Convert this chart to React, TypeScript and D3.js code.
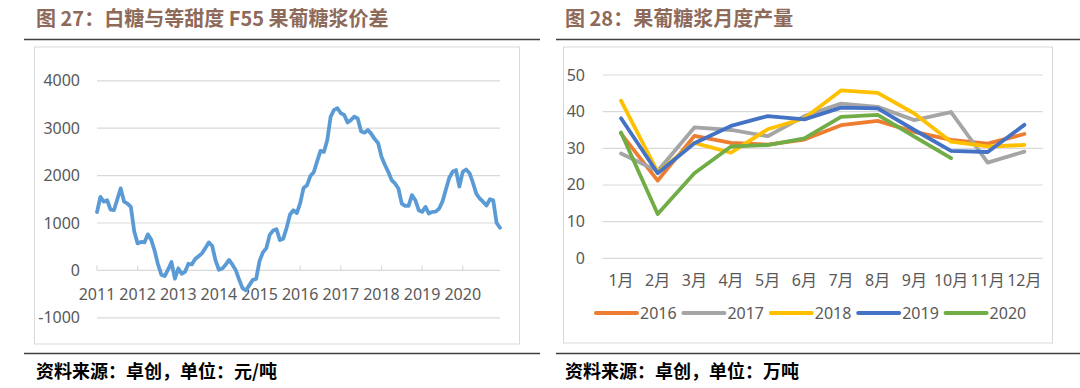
import React from 'react';
import * as d3 from 'd3';

// left chart: white sugar vs F55 HFCS spread, monthly, 2011-2020
const spreadYears = ['2011', '2012', '2013', '2014', '2015', '2016', '2017', '2018', '2019', '2020'];
const spread2011 = [1230, 1550, 1450, 1480, 1280, 1270, 1500, 1730, 1450, 1410, 1340, 820];
const spread2012 = [570, 600, 590, 760, 650, 420, 130, -90, -120, 20, 176, -176];
const spread2013 = [40, -70, -30, 140, 127, 240, 300, 360, 470, 590, 520, 212];
const spread2014 = [14, 40, 120, 220, 120, 0, -200, -380, -420, -310, -200, -180];
const spread2015 = [200, 380, 470, 750, 840, 870, 640, 670, 900, 1180, 1270, 1210];
const spread2016 = [1420, 1740, 1795, 1990, 2070, 2300, 2520, 2500, 2750, 3245, 3386, 3421];
const spread2017 = [3316, 3280, 3120, 3175, 3245, 3200, 2930, 2906, 2960, 2880, 2770, 2690];
const spread2018 = [2400, 2230, 2080, 1905, 1834, 1728, 1410, 1361, 1361, 1587, 1481, 1270];
const spread2019 = [1234, 1340, 1199, 1234, 1240, 1300, 1450, 1700, 1950, 2080, 2116, 1770];
const spread2020 = [2080, 2130, 2050, 1850, 1620, 1517, 1450, 1370, 1500, 1480, 1000, 900];
const spreadTicks = [-1000, 0, 1000, 2000, 3000, 4000];

// right chart: HFCS monthly output (10k t)
const months = ['1月', '2月', '3月', '4月', '5月', '6月', '7月', '8月', '9月', '10月', '11月', '12月'];
const prod2016 = [34, 21.2, 33.4, 31.5, 31, 32.4, 36.3, 37.5, 34.5, 32.3, 31.3, 33.9];
const prod2017 = [28.6, 23.8, 35.7, 35, 33.3, 38.8, 42.2, 41.3, 37.7, 39.9, 26.1, 29.1];
const prod2018 = [43, 23.5, 31.5, 28.8, 35.2, 38.2, 45.8, 45.1, 39.5, 31.8, 30.5, 30.9];
const prod2019 = [38.2, 23.2, 31.4, 36.1, 38.8, 37.9, 41.1, 40.9, 35, 29.3, 29, 36.4];
const prod2020 = [34.3, 12.1, 23.2, 30.5, 30.9, 32.7, 38.6, 39.1, 33.2, 27.3];
const prodNames = ['2016', '2017', '2018', '2019', '2020'];
const prodColors = ['#ED7D31', '#A5A5A5', '#FFC000', '#4472C4', '#70AD47'];
const prodTicks = [0, 10, 20, 30, 40, 50];

const numFont = '"Noto Sans", "Noto Sans CJK SC", sans-serif';
const cjkFont = '"Noto Sans CJK SC", "Noto Sans", sans-serif';
const axisColor = '#595959';
const gridColor = '#d9d9d9';

function SpreadChart() {
  const spread = [spread2011, spread2012, spread2013, spread2014, spread2015,
    spread2016, spread2017, spread2018, spread2019, spread2020].flat();

  const x = d3.scaleLinear().domain([0, spread.length - 1]).range([97, 500]);
  const y = d3.scaleLinear().domain([-1000, 4000]).range([317.8, 80.8]);

  const line = d3
    .line<number>()
    .x((d, i) => x(i))
    .y(d => y(d));

  return (
    <g>
      <rect x={34.5} y={47} width={485} height={297} fill="#fff" stroke={gridColor} />
      {spreadTicks.map(t => (
        <g key={t}>
          <line x1={97} x2={500} y1={y(t)} y2={y(t)} stroke={gridColor} strokeWidth={1.2} />
          <text x={80} y={y(t) + 5.5} textAnchor="end" fontSize={16} fill={axisColor} fontFamily={numFont}>
            {t}
          </text>
        </g>
      ))}
      {spreadYears.map((yr, i) => (
        <g key={yr}>
          <line x1={x(i * 12)} x2={x(i * 12)} y1={y(0) - 5} y2={y(0)} stroke={gridColor} strokeWidth={1.2} />
          <text x={x(i * 12)} y={y(0) + 30} textAnchor="middle" fontSize={16} fill={axisColor} fontFamily={numFont}>
            {yr}
          </text>
        </g>
      ))}
      <path d={line(spread) || ''} fill="none" stroke="#5B9BD5" strokeWidth={3.8} strokeLinejoin="round" strokeLinecap="round" />
    </g>
  );
}

function ProdChart() {
  const series = [prod2016, prod2017, prod2018, prod2019, prod2020];

  const x = d3.scaleBand().domain(months).range([602.7, 1042.7]);
  const y = d3.scaleLinear().domain([0, 50]).range([258.3, 75]);
  const cx = (m: string) => (x(m) || 0) + x.bandwidth() / 2;

  const line = d3
    .line<number>()
    .x((d, i) => cx(months[i]))
    .y(d => y(d));

  return (
    <g>
      <rect x={563.5} y={47} width={489} height={296} fill="#fff" stroke={gridColor} />
      {prodTicks.map(t => (
        <g key={t}>
          <line x1={602.7} x2={1042.7} y1={y(t)} y2={y(t)} stroke={gridColor} strokeWidth={1.2} />
          <text x={585} y={y(t) + 5.5} textAnchor="end" fontSize={16} fill={axisColor} fontFamily={numFont}>
            {t}
          </text>
        </g>
      ))}
      {months.map(m => (
        <text key={m} x={cx(m)} y={286} textAnchor="middle" fontSize={16} fill={axisColor} fontFamily={numFont}>
          {m}
        </text>
      ))}
      {series.map((s, i) => (
        <path
          key={prodNames[i]}
          d={line(s) || ''}
          fill="none"
          stroke={prodColors[i]}
          strokeWidth={3.8}
          strokeLinejoin="round"
          strokeLinecap="round"
        />
      ))}
      {prodNames.map((n, i) => (
        <g key={n} transform={`translate(${596 + i * 87.4},313)`}>
          <line x1={0} x2={41} y1={0} y2={0} stroke={prodColors[i]} strokeWidth={4} strokeLinecap="round" />
          <text x={44} y={5.5} fontSize={16} fill={axisColor} fontFamily={numFont}>
            {n}
          </text>
        </g>
      ))}
    </g>
  );
}

export default function App() {
  const titleColor = '#8E6A5A';
  return (
    <svg width={1080} height={388} style={{ position: 'absolute', left: 0, top: 0, background: '#fff' }}>
      <rect width={1080} height={388} fill="#fff" />
      <text x={36} y={26} fontSize={20} fontWeight="bold" fill={titleColor} fontFamily={cjkFont}>
        图 27：白糖与等甜度 F55 果葡糖浆价差
      </text>
      <text x={565} y={26} fontSize={20} fontWeight="bold" fill={titleColor} fontFamily={cjkFont}>
        图 28：果葡糖浆月度产量
      </text>
      <line x1={24} x2={540} y1={39.5} y2={39.5} stroke="#404040" strokeWidth={1.3} />
      <line x1={556} x2={1080} y1={39.5} y2={39.5} stroke="#404040" strokeWidth={1.3} />
      <SpreadChart />
      <ProdChart />
      <line x1={24} x2={540} y1={353.5} y2={353.5} stroke="#404040" strokeWidth={1.3} />
      <line x1={556} x2={1080} y1={353.5} y2={353.5} stroke="#404040" strokeWidth={1.3} />
      <text x={36} y={378} fontSize={18} fontWeight="bold" fill="#000" fontFamily={cjkFont}>
        资料来源：卓创，单位：元/吨
      </text>
      <text x={565} y={378} fontSize={18} fontWeight="bold" fill="#000" fontFamily={cjkFont}>
        资料来源：卓创，单位：万吨
      </text>
    </svg>
  );
}
